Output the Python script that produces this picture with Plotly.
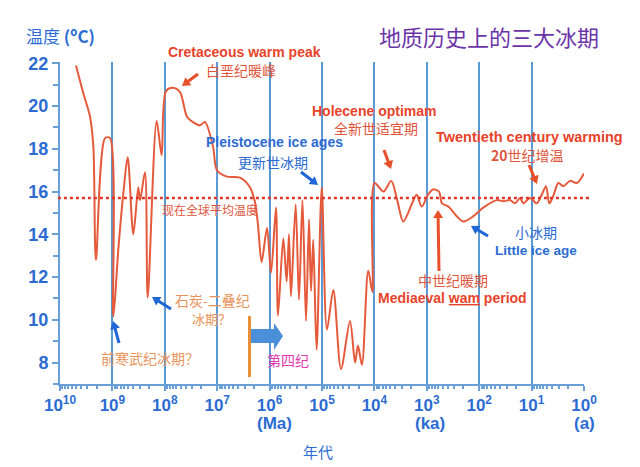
import math
import plotly.graph_objects as go

# ---- data ----
age_years = [4.95e9, 3.59e9, 2.67e9, 2.31e9, 2.06e9, 1.38e9, 1.11e9, 9.6e8, 7.71e8, 6.19e8,
             5.11e8, 3.99e8, 3.21e8, 2.97e8, 2.39e8, 2.12e8, 1.43e8, 1.15e8, 9.48e7, 6.97e7,
             5.13e7, 3.77e7, 2.90e7, 2.13e7, 1.71e7, 1.20e7, 1.01e7, 6.50e6, 3.67e6, 2.37e6,
             1.90e6, 1.66e6, 1.42e6, 1.12e6, 9.4e5, 7.55e5, 6.92e5, 5.48e5, 4.72e5, 4.27e5,
             3.91e5, 3.18e5, 2.75e5, 2.36e5, 2.02e5, 1.77e5, 1.62e5, 1.47e5, 1.27e5, 1.01e5,
             8.04e4, 6.08e4, 4.34e4, 2.92e4, 2.34e4, 2.06e4, 1.73e4, 1.31e4, 1.09e4, 9.95e3,
             6.70e3, 4.78e3, 3.67e3, 2.81e3, 1.87e3, 1.56e3, 1.25e3, 948, 762, 585,
             513, 389, 269, 201, 129, 83.6, 46.3, 34.7, 25.8, 20.7,
             16.6, 14.4, 10.7, 8.0, 6.41, 5.31, 4.59, 3.85, 3.09, 2.48,
             1.85, 1.38, 1.0]
temp_c = [21.9, 20.6, 19.5, 18.1, 12.8, 18.5, 18.5, 10.15, 13.3, 15.9,
          17.6, 14.0, 16.2, 15.6, 16.9, 11.05, 19.3, 17.7, 20.7, 20.85,
          20.65, 19.5, 19.25, 19.1, 19.25, 18.1, 17.0, 16.7, 16.65, 16.2,
          15.5, 14.4, 12.7, 14.3, 12.2, 15.25, 10.2, 13.8, 11.8, 14.0,
          11.1, 15.4, 10.95, 15.6, 9.95, 14.7, 11.35, 13.75, 8.6, 16.2,
          9.55, 11.4, 7.7, 9.95, 8.0, 8.8, 7.9, 12.3, 11.3, 16.4,
          16.0, 16.5, 15.6, 14.6, 15.5, 15.85, 15.3, 15.85, 16.1, 16.0,
          15.45, 15.3, 14.85, 14.6, 14.85, 15.25, 15.6, 15.55, 15.6, 15.45,
          15.7, 15.45, 15.7, 15.45, 15.85, 16.25, 15.45, 15.8, 16.4, 16.25,
          16.5, 16.4, 16.85]
present_mean_temp = 15.7

x_tick_vals = [1e10, 1e9, 1e8, 1e7, 1e6, 1e5, 1e4, 1e3, 1e2, 1e1, 1e0]
x_tick_text = ["10<sup>10</sup>", "10<sup>9</sup>", "10<sup>8</sup>", "10<sup>7</sup>",
               "10<sup>6</sup>", "10<sup>5</sup>", "10<sup>4</sup>", "10<sup>3</sup>",
               "10<sup>2</sup>", "10<sup>1</sup>", "10<sup>0</sup>"]
x_minor_vals = [k * 10 ** n for n in range(0, 10) for k in range(2, 10)]
y_tick_vals = [8, 10, 12, 14, 16, 18, 20, 22]

# ---- styling ----
BLUE = "#2c6cd2"
AXIS = "#6a9fd8"
GRID = "#5b9bd5"
RED = "#e8432a"
RED_CN = "#e0553c"
CURVE = "#e65a3c"
ORANGE = "#e8935a"
PURPLE = "#6b35a8"
EN = "Liberation Sans, Arial, sans-serif"
CN = "Noto Sans CJK SC, sans-serif"

W, H = 640, 467
L, R, T, B = 60, 56, 62, 83


def px(x):
    return (x - L) / (W - L - R)


def py(y):
    return (H - B - y) / (H - T - B)


fig = go.Figure()
fig.add_trace(go.Scatter(x=age_years, y=temp_c, mode="lines",
                         line=dict(color=CURVE, width=2, shape="spline", smoothing=0.85),
                         hoverinfo="skip"))

fig.add_shape(type="line", xref="paper", yref="y", x0=-0.004, x1=1.014,
              y0=present_mean_temp, y1=present_mean_temp,
              line=dict(color="#e0352a", width=2.5, dash="dot"))

# orange marker line and blue block arrow (Quaternary)
fig.add_shape(type="line", xref="paper", yref="paper", x0=px(249.5), x1=px(249.5),
              y0=py(316), y1=py(377), line=dict(color="#e8903a", width=3))
path = ("M {a},{b} L {c},{b} L {c},{d} L {e},{f} L {c},{g} L {c},{h} L {a},{h} Z").format(
    a=px(251), c=px(274), e=px(283), b=py(329), h=py(343), d=py(323), g=py(350), f=py(336))
fig.add_shape(type="path", xref="paper", yref="paper", path=path,
              fillcolor="#4a8fd8", line=dict(width=0))

texts = [
    ("地质历史上的三大冰期", 489, 36, PURPLE, 22, CN),
    ("<b>Cretaceous warm peak</b>", 244, 52, RED, 14, EN),
    ("白垩纪暖峰", 241, 70, RED_CN, 14, CN),
    ("<b>Pleistocene ice ages</b>", 274, 142, BLUE, 14, EN),
    ("更新世冰期", 273, 162, BLUE, 14, CN),
    ("现在全球平均温度", 210, 209, RED_CN, 12, CN),
    ("<b>Holecene optimam</b>", 374, 111, RED, 14, EN),
    ("全新世适宜期", 376, 128, RED_CN, 14, CN),
    ("<b>Twentieth century warming</b>", 529, 137, RED, 14.5, EN),
    ("<b>20</b>世纪增温", 527, 155, RED_CN, 14, CN),
    ("小冰期", 536, 232, BLUE, 14, CN),
    ("<b>Little ice age</b>", 536, 251, BLUE, 13.5, EN),
    ("中世纪暖期", 453, 280, RED_CN, 14, CN),
    ("<b>Mediaeval <u>wam</u> period</b>", 452, 298, RED, 14, EN),
    ("石炭-二叠纪", 212, 300, ORANGE, 14, CN),
    ("冰期？", 211, 318, ORANGE, 13, CN),
    ("前寒武纪冰期？", 150, 358, ORANGE, 14, CN),
    ("第四纪", 288, 360, "#e03cb0", 14, CN),
    ("<b>(Ma)</b>", 274, 423, BLUE, 17, EN),
    ("<b>(ka)</b>", 430, 423, BLUE, 17, EN),
    ("<b>(a)</b>", 584, 423, BLUE, 17, EN),
    ("年代", 318, 451, BLUE, 15, CN),
]
for txt, x, y, col, size, fam in texts:
    fig.add_annotation(text=txt, x=px(x), y=py(y), xref="paper", yref="paper",
                       showarrow=False, xanchor="center", yanchor="middle",
                       font=dict(color=col, size=size, family=fam))

fig.add_annotation(text="温度 <b>(ºC)</b>", x=px(24), y=py(36), xref="paper", yref="paper",
                   showarrow=False, xanchor="left", yanchor="middle",
                   font=dict(color=BLUE, size=17, family=CN))

# pointer arrows: (tail pixel), (tip pixel), colour
arrows = [
    ((198, 74), (182, 86), "#e8502a"),
    ((384, 150), (391, 169), "#e8502a"),
    ((529, 165), (537, 184), "#e8502a"),
    ((439, 271), (438, 210), "#e8502a"),
    ((301, 172), (318, 185), "#1f66d6"),
    ((488, 236), (471, 226), "#1f66d6"),
    ((171, 309), (152, 297), "#1f66d6"),
    ((119, 343), (113, 321), "#1f66d6"),
]
HL, HW = 8.0, 5.0
for (tx, ty), (hx, hy), col in arrows:
    dx, dy = hx - tx, hy - ty
    n = math.hypot(dx, dy)
    ux, uy = dx / n, dy / n
    bx, by = hx - ux * HL, hy - uy * HL
    fig.add_shape(type="line", xref="paper", yref="paper",
                  x0=px(tx), y0=py(ty), x1=px(bx + ux), y1=py(by + uy),
                  line=dict(color=col, width=3))
    tri = "M {},{} L {},{} L {},{} Z".format(
        px(hx), py(hy), px(bx - uy * HW), py(by + ux * HW), px(bx + uy * HW), py(by - ux * HW))
    fig.add_shape(type="path", xref="paper", yref="paper", path=tri,
                  fillcolor=col, line=dict(width=0))

fig.update_xaxes(type="log", range=[10, 0], tickmode="array", tickvals=x_tick_vals,
                 ticktext=x_tick_text, showgrid=True, gridcolor=GRID, gridwidth=2,
                 showline=True, linecolor=AXIS, linewidth=2, zeroline=False,
                 ticks="outside", ticklen=5, tickwidth=2, tickcolor=AXIS,
                 tickfont=dict(color=BLUE, size=17, family=EN, weight="bold"),
                 minor=dict(tickmode="array", tickvals=x_minor_vals, ticks="outside",
                            ticklen=3, tickwidth=1.5, tickcolor=AXIS, showgrid=False))
fig.update_yaxes(range=[7.0, 22.06], tickmode="array", tickvals=y_tick_vals,
                 showgrid=False, zeroline=False, showline=True, linecolor=AXIS, linewidth=2,
                 ticks="outside", ticklen=6, tickwidth=2, tickcolor=AXIS,
                 tickfont=dict(color=BLUE, size=18, family=EN, weight="bold"),
                 minor=dict(dtick=1, tick0=7, ticks="outside", ticklen=5, tickwidth=1.5,
                            tickcolor=AXIS, showgrid=False))

fig.update_layout(width=W, height=H, margin=dict(l=L, r=R, t=T, b=B),
                  plot_bgcolor="white", paper_bgcolor="white", showlegend=False)

fig.write_html("out.html", config={"displayModeBar": False},
               post_script="document.body.style.margin='0';")
